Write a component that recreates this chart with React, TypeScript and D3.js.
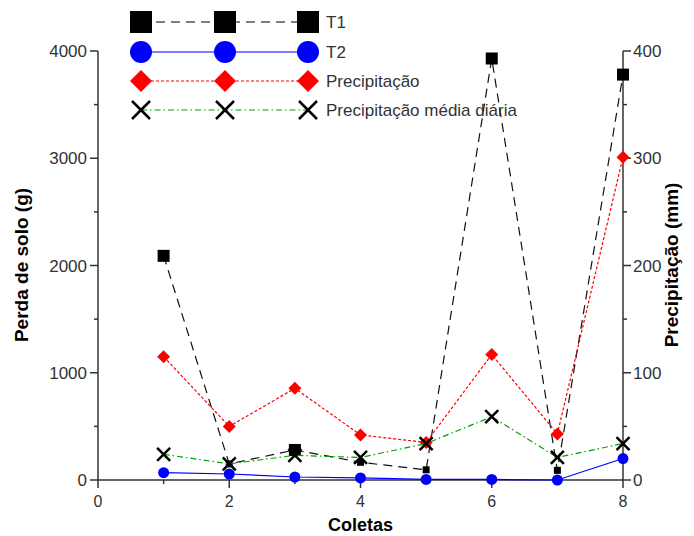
import React from 'react';
import * as d3 from 'd3';

const coletas = [1, 2, 3, 4, 5, 6, 7, 8];
const t1 = [2090, 150, 280, 165, 95, 3930, 90, 3780];
const t2 = [68, 56, 28, 19, 5, 5, 0, 200];
const precipitacao = [115, 50, 85.5, 42, 35, 117, 43, 301];
const precipMedia = [24, 15, 23, 21, 34, 59, 21, 34];
const xTicks = [0, 2, 4, 6, 8];
const leftTicks = [0, 1000, 2000, 3000, 4000];
const rightTicks = [0, 100, 200, 300, 400];

const W = 694;
const H = 536;
const font = 'Liberation Sans, Arial, sans-serif';
const axisColor = '#333';

const x = d3.scaleLinear().domain([0, 8]).range([98, 623]);
const yL = d3.scaleLinear().domain([0, 4000]).range([480, 51]);
const yR = d3.scaleLinear().domain([0, 400]).range([480, 51]);

const Square = ({ cx, cy, s }: { cx: number; cy: number; s: number }) => (
  <rect x={cx - s / 2} y={cy - s / 2} width={s} height={s} fill="#000" />
);
const Circle = ({ cx, cy, r }: { cx: number; cy: number; r: number }) => (
  <circle cx={cx} cy={cy} r={r} fill="#0000ff" />
);
const Diamond = ({ cx, cy, s }: { cx: number; cy: number; s: number }) => (
  <path d={`M${cx},${cy - s}L${cx + s},${cy}L${cx},${cy + s}L${cx - s},${cy}Z`} fill="#ff0000" />
);
const Cross = ({ cx, cy, s, w }: { cx: number; cy: number; s: number; w: number }) => (
  <path d={`M${cx - s},${cy - s}L${cx + s},${cy + s}M${cx - s},${cy + s}L${cx + s},${cy - s}`} stroke="#000" strokeWidth={w} />
);

export default function App() {
  const lineL = d3.line<number>().x((_, i) => x(coletas[i])).y(d => yL(d));
  const lineR = d3.line<number>().x((_, i) => x(coletas[i])).y(d => yR(d));

  const legendRows = [
    { label: 'T1', y: 22, stroke: '#000', dash: '9,6', kind: 'sq' },
    { label: 'T2', y: 52, stroke: '#0000ff', dash: '', kind: 'ci' },
    { label: 'Precipitação', y: 81, stroke: '#ff0000', dash: '3,2', kind: 'di' },
    { label: 'Precipitação média diária', y: 110, stroke: '#00a000', dash: '6,3,1.5,3', kind: 'x' },
  ];
  const legendX = [141, 225, 308];

  const minorX = d3.range(1, 8, 2);
  const minorL = d3.range(500, 4000, 1000);
  const minorR = d3.range(50, 400, 100);

  return (
    <svg width={W} height={H} style={{ position: 'absolute', left: 0, top: 0, background: '#fff' }} fontFamily={font}>
      {/* axes */}
      <g stroke={axisColor} strokeWidth={1.5} fill="none">
        <line x1={x(0)} x2={x(8)} y1={480} y2={480} />
        <line x1={x(0)} x2={x(0)} y1={yL(4000)} y2={480} />
        <line x1={x(8)} x2={x(8)} y1={yR(400)} y2={480} />
        {xTicks.map(t => <line key={'xt' + t} x1={x(t)} x2={x(t)} y1={480} y2={488} />)}
        {minorX.map(t => <line key={'xm' + t} x1={x(t)} x2={x(t)} y1={480} y2={484} />)}
        {leftTicks.map(t => <line key={'lt' + t} x1={x(0) - 8} x2={x(0)} y1={yL(t)} y2={yL(t)} />)}
        {minorL.map(t => <line key={'lm' + t} x1={x(0) - 4} x2={x(0)} y1={yL(t)} y2={yL(t)} />)}
        {rightTicks.map(t => <line key={'rt' + t} x1={x(8)} x2={x(8) + 8} y1={yR(t)} y2={yR(t)} />)}
        {minorR.map(t => <line key={'rm' + t} x1={x(8)} x2={x(8) + 4} y1={yR(t)} y2={yR(t)} />)}
      </g>
      <g fontSize={17} fill="#333">
        {xTicks.map(t => (
          <text key={'xl' + t} x={x(t)} y={507} fontSize={16} textAnchor="middle">{t}</text>
        ))}
        {leftTicks.map(t => (
          <text key={'ll' + t} x={x(0) - 11} y={yL(t) + 6} textAnchor="end">{t}</text>
        ))}
        {rightTicks.map(t => (
          <text key={'rl' + t} x={x(8) + 10} y={yR(t) + 6} textAnchor="start">{t}</text>
        ))}
      </g>
      <g fontSize={19} fontWeight="bold" fill="#000">
        <text x={x(4)} y={531} fontSize={18} textAnchor="middle">Coletas</text>
        <text transform="translate(28,265) rotate(-90)" textAnchor="middle">Perda de solo (g)</text>
        <text transform="translate(678,265) rotate(-90)" textAnchor="middle">Precipitação (mm)</text>
      </g>

      {/* series */}
      <path d={lineL(t1) || ''} fill="none" stroke="#111" strokeWidth={1.2} strokeDasharray="9,6" />
      {t1.map((v, i) => <Square key={'s' + i} cx={x(coletas[i])} cy={yL(v)} s={v < 200 ? 7 : 12} />)}
      <path d={lineL(t2) || ''} fill="none" stroke="#0000ff" strokeWidth={1.2} />
      {t2.map((v, i) => <Circle key={'c' + i} cx={x(coletas[i])} cy={yL(v)} r={5.5} />)}
      <path d={lineR(precipitacao) || ''} fill="none" stroke="#ff0000" strokeWidth={1.2} strokeDasharray="3,2" />
      {precipitacao.map((v, i) => <Diamond key={'d' + i} cx={x(coletas[i])} cy={yR(v)} s={6.5} />)}
      <path d={lineR(precipMedia) || ''} fill="none" stroke="#00a000" strokeWidth={1.2} strokeDasharray="6,3,1.5,3" />
      {precipMedia.map((v, i) => <Cross key={'x' + i} cx={x(coletas[i])} cy={yR(v)} s={6.5} w={2.5} />)}

      {/* legend */}
      {legendRows.map(r => (
        <g key={r.label}>
          <line x1={legendX[0]} x2={legendX[2]} y1={r.y} y2={r.y} stroke={r.stroke} strokeWidth={1.2} strokeDasharray={r.dash || undefined} />
          {legendX.map(lx => (
            <g key={lx}>
              {r.kind === 'sq' && <Square cx={lx} cy={r.y} s={22} />}
              {r.kind === 'ci' && <Circle cx={lx} cy={r.y} r={11} />}
              {r.kind === 'di' && <Diamond cx={lx} cy={r.y} s={11} />}
              {r.kind === 'x' && <Cross cx={lx} cy={r.y} s={9} w={2.5} />}
            </g>
          ))}
          <text x={326} y={r.y + 6} fontSize={17} fill="#333">{r.label}</text>
        </g>
      ))}
    </svg>
  );
}
